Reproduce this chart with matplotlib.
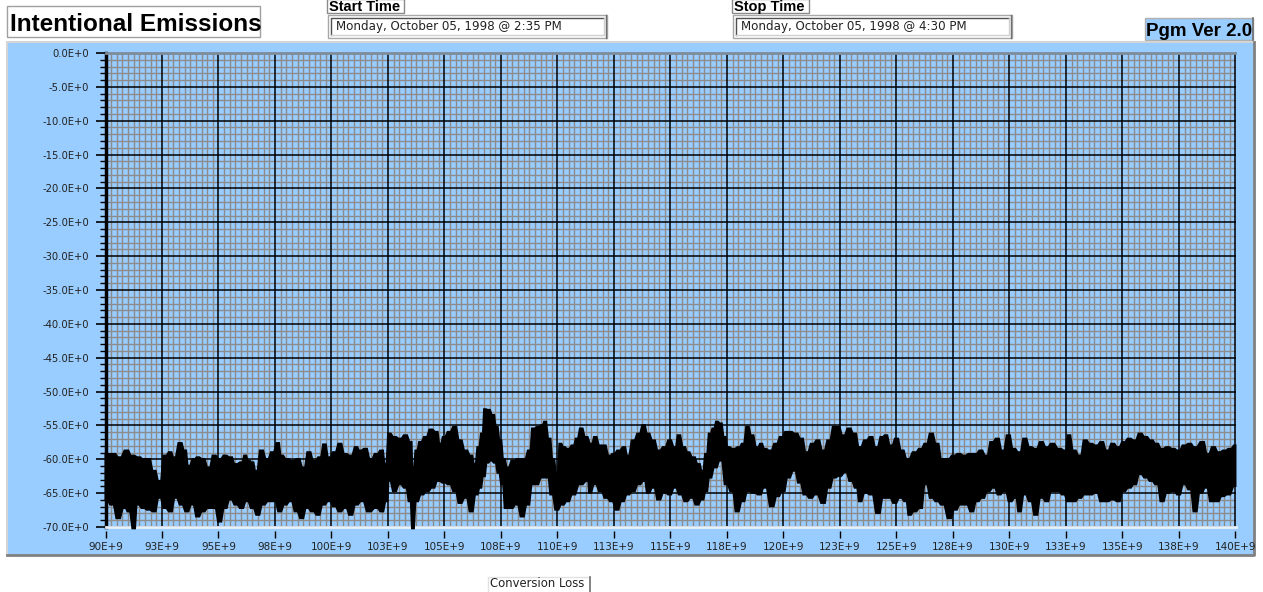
import numpy as np
import matplotlib
matplotlib.use("Agg")
import matplotlib.pyplot as plt
from matplotlib.patches import Rectangle
from matplotlib.ticker import MultipleLocator

W, H = 1263, 592

title = "Intentional Emissions"
start_time = "Monday, October 05, 1998 @ 2:35 PM"
stop_time = "Monday, October 05, 1998 @ 4:30 PM"
version = "Pgm Ver 2.0"
trace_name = "Conversion Loss"

# top edge of the swept trace: (frequency GHz, level dB)
upper_edge = [
    (90.00, -59.2), (90.37, -59.2), (90.61, -59.7), (90.94, -58.7), (91.18, -59.45),
    (91.50, -59.7), (91.66, -59.95), (91.90, -59.95), (92.15, -61.7), (92.39, -63.2),
    (92.63, -59.45), (92.87, -58.95), (93.03, -59.7), (93.31, -57.6), (93.52, -58.7),
    (93.68, -60.95), (93.92, -59.95), (94.08, -59.7), (94.32, -59.95), (94.56, -61.2),
    (94.81, -59.45), (95.05, -59.95), (95.29, -59.45), (95.53, -59.7), (95.77, -60.7),
    (96.02, -60.45), (96.18, -59.45), (96.34, -60.2), (96.50, -60.45), (96.66, -61.7),
    (96.90, -58.7), (97.15, -59.95), (97.39, -58.95), (97.63, -57.6), (97.79, -59.45),
    (98.03, -59.95), (98.27, -60.2), (98.52, -59.95), (98.76, -61.2), (99.00, -58.95),
    (99.24, -60.2), (99.48, -59.7), (99.69, -57.8), (99.89, -59.7), (100.13, -58.95),
    (100.37, -57.7), (100.61, -59.2), (100.85, -59.45), (101.10, -58.2), (101.26, -58.7),
    (101.50, -58.45), (101.74, -59.95), (101.98, -59.2), (102.23, -58.7), (102.39, -60.7),
    (102.55, -56.2), (102.79, -56.7), (103.03, -56.95), (103.27, -56.45), (103.52, -57.45),
    (103.60, -61.7), (103.76, -58.7), (103.92, -57.45), (104.16, -56.7), (104.40, -55.6),
    (104.65, -55.95), (104.81, -57.7), (104.97, -56.7), (105.21, -55.95), (105.45, -55.2),
    (105.69, -57.2), (105.94, -58.7), (106.18, -59.45), (106.34, -60.7), (106.50, -58.2),
    (106.66, -56.2), (106.79, -52.6), (106.95, -52.7), (107.15, -53.45), (107.31, -55.2),
    (107.47, -57.2), (107.63, -59.95), (107.79, -61.2), (108.03, -60.2), (108.27, -59.95),
    (108.52, -59.95), (108.76, -58.7), (108.92, -55.45), (109.16, -55.2), (109.32, -54.95),
    (109.44, -54.45), (109.64, -56.95), (109.81, -59.95), (109.97, -61.95), (110.13, -57.7),
    (110.29, -58.2), (110.45, -58.45), (110.69, -57.95), (110.85, -56.95), (111.05, -55.45),
    (111.26, -56.7), (111.50, -57.7), (111.66, -56.7), (111.90, -57.95), (112.06, -57.95),
    (112.31, -59.45), (112.47, -59.2), (112.71, -58.7), (112.95, -58.2), (113.11, -59.45),
    (113.35, -57.2), (113.60, -56.2), (113.81, -54.95), (114.00, -56.2), (114.24, -57.2),
    (114.48, -58.7), (114.73, -58.2), (114.96, -57.2), (115.20, -58.2), (115.36, -56.45),
    (115.60, -58.2), (115.77, -58.95), (116.01, -59.7), (116.25, -60.7), (116.41, -61.7),
    (116.58, -59.2), (116.74, -56.2), (116.90, -55.45), (117.06, -54.45), (117.22, -54.7),
    (117.39, -56.7), (117.55, -58.2), (117.79, -58.45), (118.03, -58.2), (118.20, -57.7),
    (118.41, -55.2), (118.60, -56.45), (118.84, -58.2), (119.01, -57.7), (119.17, -58.45),
    (119.41, -58.7), (119.66, -57.7), (119.90, -56.7), (120.14, -55.95), (120.30, -55.95),
    (120.55, -56.2), (120.79, -56.95), (121.03, -58.95), (121.28, -57.7), (121.52, -57.2),
    (121.76, -58.7), (122.01, -57.2), (122.25, -55.2), (122.41, -55.2), (122.65, -56.45),
    (122.90, -55.45), (123.14, -56.2), (123.38, -58.2), (123.63, -57.2), (123.87, -56.7),
    (124.11, -58.2), (124.36, -56.7), (124.52, -56.45), (124.76, -57.95), (125.00, -56.95),
    (125.25, -58.7), (125.49, -59.95), (125.81, -58.95), (126.06, -58.45), (126.30, -57.7),
    (126.54, -56.2), (126.79, -57.7), (127.03, -59.95), (127.27, -59.95), (127.52, -59.45),
    (127.76, -59.2), (128.00, -59.45), (128.25, -59.2), (128.49, -59.2), (128.73, -58.7),
    (128.97, -59.45), (129.22, -57.45), (129.46, -56.95), (129.70, -58.7), (129.95, -56.45),
    (130.19, -58.45), (130.43, -58.95), (130.68, -56.95), (130.92, -58.2), (131.16, -58.45),
    (131.41, -57.45), (131.65, -58.2), (131.89, -57.7), (132.22, -58.45), (132.46, -58.7),
    (132.62, -56.45), (132.86, -58.7), (133.11, -59.45), (133.35, -57.2), (133.59, -57.7),
    (133.84, -57.95), (134.08, -57.45), (134.32, -58.7), (134.57, -57.7), (134.81, -58.2),
    (135.05, -57.45), (135.30, -56.95), (135.54, -57.2), (135.78, -56.2), (136.03, -56.7),
    (136.27, -57.2), (136.51, -57.7), (136.75, -58.45), (137.00, -58.2), (137.24, -58.45),
    (137.48, -58.7), (137.73, -57.95), (137.97, -57.7), (138.21, -58.2), (138.54, -57.45),
    (138.78, -59.2), (139.02, -58.2), (139.27, -58.95), (139.51, -58.7), (139.75, -58.45),
    (140.00, -57.95),
]

# bottom edge of the swept trace: (frequency GHz, level dB)
lower_edge = [
    (90.00, -65.95), (90.29, -66.7), (90.56, -68.7), (90.85, -67.2), (91.02, -67.7),
    (91.26, -70.2), (91.42, -66.7), (91.66, -67.2), (91.90, -67.45), (92.15, -67.7),
    (92.39, -65.7), (92.63, -67.2), (92.87, -67.7), (93.11, -65.7), (93.35, -66.7),
    (93.60, -67.7), (93.84, -66.7), (94.08, -68.45), (94.32, -67.7), (94.56, -67.2),
    (94.81, -67.2), (95.05, -69.2), (95.29, -67.2), (95.53, -65.95), (95.77, -66.7),
    (96.02, -67.2), (96.26, -66.2), (96.50, -67.2), (96.74, -68.2), (96.98, -66.7),
    (97.23, -66.2), (97.47, -66.2), (97.71, -67.7), (97.95, -66.7), (98.19, -66.2),
    (98.44, -67.7), (98.68, -68.7), (98.92, -67.2), (99.16, -67.7), (99.40, -68.2),
    (99.65, -66.7), (99.89, -66.2), (100.13, -66.95), (100.37, -67.7), (100.61, -67.2),
    (100.85, -68.2), (101.10, -66.7), (101.34, -66.2), (101.66, -67.7), (101.98, -67.2),
    (102.23, -67.7), (102.44, -66.2), (102.55, -63.2), (102.79, -64.7), (103.03, -63.7),
    (103.27, -64.2), (103.47, -66.2), (103.60, -70.2), (103.76, -66.2), (104.00, -65.2),
    (104.24, -64.7), (104.48, -64.2), (104.73, -63.2), (104.97, -63.45), (105.21, -63.7),
    (105.45, -64.7), (105.69, -66.45), (105.94, -65.7), (106.18, -67.7), (106.42, -65.2),
    (106.58, -64.2), (106.74, -62.5), (106.90, -60.5), (107.06, -60.2), (107.23, -60.5),
    (107.39, -62.0), (107.55, -63.7), (107.71, -67.2), (107.95, -67.2), (108.19, -66.7),
    (108.44, -68.45), (108.68, -66.7), (108.92, -63.7), (109.08, -63.7), (109.32, -62.7),
    (109.56, -62.7), (109.73, -65.2), (109.97, -67.45), (110.21, -66.7), (110.45, -66.2),
    (110.69, -65.2), (111.02, -63.7), (111.34, -63.2), (111.42, -64.95), (111.66, -63.7),
    (111.90, -64.7), (112.15, -65.7), (112.39, -66.2), (112.63, -67.45), (112.87, -66.2),
    (113.11, -65.2), (113.35, -64.7), (113.60, -63.7), (113.84, -63.2), (114.00, -64.95),
    (114.24, -64.2), (114.48, -65.95), (114.73, -64.95), (114.96, -65.2), (115.20, -64.2),
    (115.44, -65.2), (115.68, -66.2), (115.93, -65.7), (116.17, -66.7), (116.41, -65.95),
    (116.58, -64.7), (116.74, -62.7), (116.98, -61.2), (117.22, -60.2), (117.47, -63.7),
    (117.71, -64.7), (117.95, -67.7), (118.20, -66.2), (118.44, -64.7), (118.68, -64.95),
    (118.93, -65.2), (119.17, -64.2), (119.49, -66.95), (119.74, -65.45), (119.98, -64.7),
    (120.22, -62.7), (120.47, -61.7), (120.71, -63.45), (120.95, -65.2), (121.20, -65.7),
    (121.44, -65.2), (121.76, -66.45), (122.01, -64.2), (122.25, -62.7), (122.49, -62.45),
    (122.74, -61.95), (122.98, -63.2), (123.22, -64.2), (123.38, -66.2), (123.63, -64.95),
    (123.87, -65.2), (124.19, -67.95), (124.44, -65.7), (124.68, -65.7), (124.92, -66.45),
    (125.17, -65.7), (125.41, -66.2), (125.57, -68.2), (125.81, -67.7), (126.06, -67.2),
    (126.30, -63.7), (126.54, -65.7), (126.79, -66.2), (127.03, -66.7), (127.35, -68.7),
    (127.60, -67.45), (127.84, -66.7), (128.08, -66.7), (128.33, -67.7), (128.57, -66.2),
    (128.81, -65.7), (129.06, -64.7), (129.30, -64.2), (129.54, -65.2), (129.79, -64.7),
    (130.03, -66.2), (130.27, -65.7), (130.43, -67.7), (130.68, -65.2), (130.92, -66.2),
    (131.16, -68.2), (131.41, -65.7), (131.65, -66.2), (131.89, -64.7), (132.14, -64.7),
    (132.38, -65.2), (132.62, -66.2), (132.86, -66.2), (133.11, -65.7), (133.35, -65.2),
    (133.59, -65.2), (133.84, -64.95), (134.08, -66.2), (134.32, -66.2), (134.57, -65.95),
    (134.81, -66.2), (135.05, -64.7), (135.30, -64.2), (135.54, -63.7), (135.78, -62.2),
    (136.03, -62.7), (136.27, -63.2), (136.51, -63.7), (136.75, -66.2), (137.00, -64.95),
    (137.24, -64.7), (137.48, -65.2), (137.73, -63.7), (137.97, -64.45), (138.21, -67.7),
    (138.46, -64.95), (138.70, -64.2), (138.94, -66.2), (139.19, -66.2), (139.43, -65.45),
    (139.67, -65.2), (140.00, -63.95),
]

freq_labels = ["90E+9", "93E+9", "95E+9", "98E+9", "100E+9", "103E+9", "105E+9",
               "108E+9", "110E+9", "113E+9", "115E+9", "118E+9", "120E+9", "123E+9",
               "125E+9", "128E+9", "130E+9", "133E+9", "135E+9", "138E+9", "140E+9"]
level_labels = ["-70.0E+0", "-65.0E+0", "-60.0E+0", "-55.0E+0", "-50.0E+0",
                "-45.0E+0", "-40.0E+0", "-35.0E+0", "-30.0E+0", "-25.0E+0",
                "-20.0E+0", "-15.0E+0", "-10.0E+0", "-5.0E+0", "0.0E+0"]

PANEL = "#99ccff"
SMALL = "DejaVu Sans"
BOLD = "Liberation Sans"


def plateaus(xs, ys, hold=0.3):
    """Hold each edge reading over a short flat stretch with steep sides between."""
    px, py = [], []
    n = len(xs)
    for i in range(n):
        lo = xs[i] - hold * (xs[i] - xs[i - 1]) if i > 0 else xs[i]
        hi = xs[i] + hold * (xs[i + 1] - xs[i]) if i < n - 1 else xs[i]
        px += [lo, hi]
        py += [ys[i], ys[i]]
    return px, py


fig = plt.figure(figsize=(W / 100, H / 100), dpi=100)
fig.patch.set_facecolor("white")

# page furniture drawn in pixel coordinates
bg = fig.add_axes([0, 0, 1, 1], zorder=0)
bg.set_xlim(0, W)
bg.set_ylim(H, 0)
bg.axis("off")


def box(x0, y0, x1, y1, fc="white", ec="#9a9a9a", lw=1.0):
    bg.add_patch(Rectangle((x0, y0), x1 - x0, y1 - y0, fc=fc, ec=ec, lw=lw))


def sunken(x0, y0, x1, y1):
    box(x0, y0, x1, y1, ec="#a8a8a8")
    bg.plot([x0 + 3, x0 + 3, x1 - 3], [y1 - 3, y0 + 3, y0 + 3], color="#505050", lw=1.0)
    bg.plot([x0 + 3, x1 - 3, x1 - 3], [y1 - 3, y1 - 3, y0 + 3], color="#d0d0d0", lw=1.0)
    bg.plot([x1 - 1, x1 - 1], [y0, y1], color="#707070", lw=1.0)


# title
box(7, 6, 260, 37, ec="#a0a0a0")
bg.text(10, 31, title, fontsize=17.5, fontweight="bold", family=BOLD, va="baseline")

# start / stop time fields
for lx, label, value in [(327, "Start Time", start_time), (732, "Stop Time", stop_time)]:
    box(lx, -1, lx + 77, 13, ec="#8a8a8a")
    bg.text(lx + 2, 11, label, fontsize=10.5, fontweight="bold", family=BOLD, va="baseline")
    sunken(lx + 1, 15, lx + 280, 38)
    bg.text(lx + 9, 26.5, value, fontsize=8.6, family=SMALL, va="center", color="#222222")

# program version badge
box(1145, 18, 1253, 40, fc=PANEL, ec="#b0b0b0")
bg.plot([1253, 1253], [18, 40], color="#707070", lw=1.2)
bg.text(1199, 36, version, fontsize=13.5, fontweight="bold", family=BOLD,
        va="baseline", ha="center")

# chart panel with bevelled edges
box(7, 42, 1254, 555, fc=PANEL, ec="none")
bg.plot([7, 7, 1254], [555, 42, 42], color="#d4d4d4", lw=1.5)
bg.plot([7, 1254, 1254], [555, 555, 42], color="#808080", lw=2.0)

# trace name tab below the panel
bg.plot([488, 488, 590], [593, 577, 577], color="#e2e2e2", lw=1.0)
bg.plot([590, 590], [577, 593], color="#707070", lw=1.2)
bg.text(490, 583.5, trace_name, fontsize=8.4, family=SMALL, va="center", color="#222222")

# plot area
left, right, top, bottom = 105.5, 1235.5, 53, 527
ax = fig.add_axes([left / W, 1 - bottom / H, (right - left) / W, (bottom - top) / H], zorder=1)
ax.set_facecolor(PANEL)
ax.set_xlim(90e9, 140e9)
ax.set_ylim(-70, 0)

ax.set_xticks(np.linspace(90e9, 140e9, len(freq_labels)))
ax.set_xticklabels(freq_labels)
ax.set_yticks(np.linspace(-70, 0, len(level_labels)))
ax.set_yticklabels(level_labels)
ax.xaxis.set_minor_locator(MultipleLocator(0.25e9))
ax.yaxis.set_minor_locator(MultipleLocator(1))

ax.grid(which="minor", color="#8c8c8c", lw=1.0)
for y in ax.get_yticks():
    ax.axhline(y, color="black", lw=1.1, zorder=1.6)
for x in ax.get_xticks():
    ax.axvline(x, color="black", lw=1.1, zorder=1.6)

# swept response drawn as the band between its top and bottom edges
up_f, up_db = zip(*upper_edge)
lo_f, lo_db = zip(*lower_edge)
ux, uy = plateaus([f * 1e9 for f in up_f], up_db)
bx, by = plateaus([f * 1e9 for f in lo_f], lo_db)
ax.fill(ux + bx[::-1], uy + by[::-1], facecolor="black", edgecolor="black",
        lw=1.4, zorder=3, clip_on=False)

ax.spines["right"].set_visible(False)
ax.spines["left"].set_linewidth(2.5)
ax.spines["left"].set_color("black")
ax.spines["top"].set_linewidth(2.0)
ax.spines["top"].set_color("#7f8c99")
ax.spines["bottom"].set_position(("outward", 3))
ax.spines["bottom"].set_visible(False)
ax.axhline(-70, color="#e8f0fa", lw=2.0, zorder=2.6, clip_on=False)

ax.tick_params(axis="y", which="major", length=7, width=1.2, pad=5,
               labelsize=7.2, labelfontfamily=SMALL, labelcolor="#222222")
ax.tick_params(axis="y", which="minor", length=4, width=1.0)
ax.tick_params(axis="x", which="major", length=5, width=1.0, pad=3,
               labelsize=7.5, labelfontfamily=SMALL, labelcolor="#222222")
ax.tick_params(axis="x", which="minor", length=0)

fig.savefig("out.png", dpi=100)
